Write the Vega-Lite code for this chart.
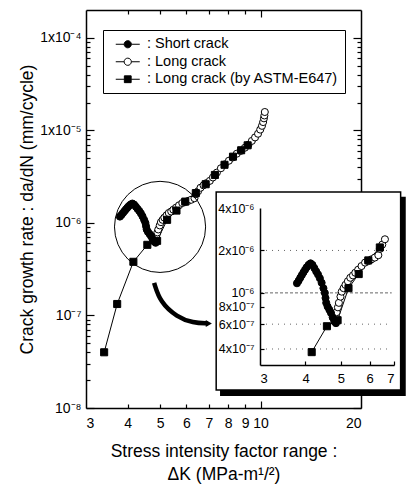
{
  "$schema": "https://vega.github.io/schema/vega-lite/v6.json",
  "width": 275,
  "height": 398,
  "autosize": {"type": "none"},
  "padding": {"left": 86, "top": 10, "right": 45, "bottom": 77},
  "background": "white",
  "config": {
    "view": {"stroke": null},
    "font": "Liberation Sans",
    "axis": {"grid": false, "domainColor": "black", "tickColor": "black", "labelColor": "black", "titleColor": "black", "labelFont": "Liberation Sans", "titleFont": "Liberation Sans", "titleFontWeight": "normal", "domainWidth": 1.5, "tickWidth": 1.2}
  },
  "datasets": {
    "main": [
      {"s": "Long crack", "dk": 4.84, "r": 6.8e-7},
      {"s": "Long crack", "dk": 4.87, "r": 7.3e-7},
      {"s": "Long crack", "dk": 4.91, "r": 7.9e-7},
      {"s": "Long crack", "dk": 4.94, "r": 8.5e-7},
      {"s": "Long crack", "dk": 4.99, "r": 9.4e-7},
      {"s": "Long crack", "dk": 5.03, "r": 1.02e-6},
      {"s": "Long crack", "dk": 5.09, "r": 1.08e-6},
      {"s": "Long crack", "dk": 5.15, "r": 1.14e-6},
      {"s": "Long crack", "dk": 5.23, "r": 1.21e-6},
      {"s": "Long crack", "dk": 5.31, "r": 1.28e-6},
      {"s": "Long crack", "dk": 5.40, "r": 1.33e-6},
      {"s": "Long crack", "dk": 5.48, "r": 1.39e-6},
      {"s": "Long crack", "dk": 5.58, "r": 1.46e-6},
      {"s": "Long crack", "dk": 5.70, "r": 1.55e-6},
      {"s": "Long crack", "dk": 5.83, "r": 1.64e-6},
      {"s": "Long crack", "dk": 5.95, "r": 1.68e-6},
      {"s": "Long crack", "dk": 6.07, "r": 1.73e-6},
      {"s": "Long crack", "dk": 6.20, "r": 1.78e-6},
      {"s": "Long crack", "dk": 6.34, "r": 1.85e-6},
      {"s": "Long crack", "dk": 6.40, "r": 2.05e-6},
      {"s": "Long crack", "dk": 6.50, "r": 2.2e-6},
      {"s": "Long crack", "dk": 6.61, "r": 2.4e-6},
      {"s": "Long crack", "dk": 6.75, "r": 2.55e-6},
      {"s": "Long crack", "dk": 6.90, "r": 2.7e-6},
      {"s": "Long crack", "dk": 7.05, "r": 2.85e-6},
      {"s": "Long crack", "dk": 7.20, "r": 3.1e-6},
      {"s": "Long crack", "dk": 7.40, "r": 3.5e-6},
      {"s": "Long crack", "dk": 7.61, "r": 3.9e-6},
      {"s": "Long crack", "dk": 7.82, "r": 4.3e-6},
      {"s": "Long crack", "dk": 8.04, "r": 4.7e-6},
      {"s": "Long crack", "dk": 8.25, "r": 5.1e-6},
      {"s": "Long crack", "dk": 8.49, "r": 5.6e-6},
      {"s": "Long crack", "dk": 8.72, "r": 6.0e-6},
      {"s": "Long crack", "dk": 8.98, "r": 6.5e-6},
      {"s": "Long crack", "dk": 9.20, "r": 7.0e-6},
      {"s": "Long crack", "dk": 9.42, "r": 7.7e-6},
      {"s": "Long crack", "dk": 9.63, "r": 8.4e-6},
      {"s": "Long crack", "dk": 9.83, "r": 9.2e-6},
      {"s": "Long crack", "dk": 9.98, "r": 1.02e-5},
      {"s": "Long crack", "dk": 10.10, "r": 1.12e-5},
      {"s": "Long crack", "dk": 10.18, "r": 1.23e-5},
      {"s": "Long crack", "dk": 10.24, "r": 1.35e-5},
      {"s": "Long crack", "dk": 10.27, "r": 1.45e-5},
      {"s": "Long crack", "dk": 10.30, "r": 1.58e-5},
      {"s": "Short crack", "dk": 3.79, "r": 1.17e-6},
      {"s": "Short crack", "dk": 3.83, "r": 1.22e-6},
      {"s": "Short crack", "dk": 3.87, "r": 1.28e-6},
      {"s": "Short crack", "dk": 3.91, "r": 1.34e-6},
      {"s": "Short crack", "dk": 3.95, "r": 1.40e-6},
      {"s": "Short crack", "dk": 3.99, "r": 1.46e-6},
      {"s": "Short crack", "dk": 4.03, "r": 1.52e-6},
      {"s": "Short crack", "dk": 4.08, "r": 1.58e-6},
      {"s": "Short crack", "dk": 4.13, "r": 1.62e-6},
      {"s": "Short crack", "dk": 4.18, "r": 1.58e-6},
      {"s": "Short crack", "dk": 4.23, "r": 1.50e-6},
      {"s": "Short crack", "dk": 4.28, "r": 1.42e-6},
      {"s": "Short crack", "dk": 4.33, "r": 1.35e-6},
      {"s": "Short crack", "dk": 4.38, "r": 1.27e-6},
      {"s": "Short crack", "dk": 4.43, "r": 1.18e-6},
      {"s": "Short crack", "dk": 4.48, "r": 1.08e-6},
      {"s": "Short crack", "dk": 4.52, "r": 1.0e-6},
      {"s": "Short crack", "dk": 4.54, "r": 9.2e-7},
      {"s": "Short crack", "dk": 4.56, "r": 8.5e-7},
      {"s": "Short crack", "dk": 4.60, "r": 8.0e-7},
      {"s": "Short crack", "dk": 4.65, "r": 7.6e-7},
      {"s": "Short crack", "dk": 4.70, "r": 7.2e-7},
      {"s": "Short crack", "dk": 4.75, "r": 6.7e-7},
      {"s": "Short crack", "dk": 4.80, "r": 6.3e-7},
      {"s": "Short crack", "dk": 4.85, "r": 6.1e-7},
      {"s": "Long crack (by ASTM-E647)", "dk": 3.40, "r": 4.0e-8},
      {"s": "Long crack (by ASTM-E647)", "dk": 3.72, "r": 1.33e-7},
      {"s": "Long crack (by ASTM-E647)", "dk": 4.16, "r": 3.8e-7},
      {"s": "Long crack (by ASTM-E647)", "dk": 4.58, "r": 5.8e-7},
      {"s": "Long crack (by ASTM-E647)", "dk": 4.90, "r": 6.4e-7},
      {"s": "Long crack (by ASTM-E647)", "dk": 5.25, "r": 1.08e-6},
      {"s": "Long crack (by ASTM-E647)", "dk": 5.60, "r": 1.36e-6},
      {"s": "Long crack (by ASTM-E647)", "dk": 5.95, "r": 1.70e-6},
      {"s": "Long crack (by ASTM-E647)", "dk": 6.40, "r": 2.10e-6},
      {"s": "Long crack (by ASTM-E647)", "dk": 6.85, "r": 2.62e-6},
      {"s": "Long crack (by ASTM-E647)", "dk": 7.30, "r": 3.3e-6},
      {"s": "Long crack (by ASTM-E647)", "dk": 7.80, "r": 4.25e-6},
      {"s": "Long crack (by ASTM-E647)", "dk": 8.27, "r": 5.2e-6},
      {"s": "Long crack (by ASTM-E647)", "dk": 8.75, "r": 6.1e-6},
      {"s": "Long crack (by ASTM-E647)", "dk": 9.15, "r": 6.9e-6}
    ]
  },
  "layer": [
    {
      "data": {"name": "main"},
      "mark": {"type": "line", "color": "black", "strokeWidth": 1},
      "encoding": {
        "x": {"field": "dk", "type": "quantitative", "scale": {"type": "log", "domain": [3, 20], "nice": false},
          "axis": {"orient": "bottom", "values": [3, 4, 5, 6, 7, 8, 9, 10, 20], "format": "d", "ticks": false, "domain": true, "labelPadding": 8, "labelFontSize": 14,
            "title": ["Stress intensity factor range :", "ΔK (MPa-m¹/²)"], "titleFontSize": 17.5, "titlePadding": 12, "titleLineHeight": 23}},
        "y": {"field": "r", "type": "quantitative", "scale": {"type": "log", "domain": [1e-8, 2e-4], "nice": false},
          "axis": {"orient": "left", "values": [1e-8, 1e-7, 1e-6, 1e-5, 1e-4], "ticks": false, "domain": true, "labelPadding": 5, "labelFontSize": 14,
            "labelExpr": "datum.value > 5e-5 ? '1x10⁻⁴' : datum.value > 5e-6 ? '1x10⁻⁵' : datum.value > 5e-7 ? '10⁻⁶' : datum.value > 5e-8 ? '10⁻⁷' : '10⁻⁸'",
            "title": "Crack growth rate : da/dN (mm/cycle)", "titleFontSize": 17.5, "titlePadding": 3}},
        "detail": {"field": "s"}
      }
    },
    {
      "data": {"name": "main"},
      "transform": [{"filter": "datum.s === 'Long crack'"}],
      "mark": {"type": "point", "shape": "circle", "filled": true, "fill": "white", "stroke": "black", "strokeWidth": 1, "size": 50, "opacity": 1},
      "encoding": {
        "x": {"field": "dk", "type": "quantitative", "scale": {"type": "log", "domain": [3, 20], "nice": false},
          "axis": {"orient": "top", "values": [4, 5, 6, 7, 8, 9], "offset": -4, "tickSize": 4, "labels": false, "domain": false, "title": null}},
        "y": {"field": "r", "type": "quantitative", "scale": {"type": "log", "domain": [1e-8, 2e-4], "nice": false},
          "axis": {"orient": "right", "values": [2e-8, 3e-8, 4e-8, 5e-8, 6e-8, 7e-8, 8e-8, 9e-8, 2e-7, 3e-7, 4e-7, 5e-7, 6e-7, 7e-7, 8e-7, 9e-7, 2e-6, 3e-6, 4e-6, 5e-6, 6e-6, 7e-6, 8e-6, 9e-6, 2e-5, 3e-5, 4e-5, 5e-5, 6e-5, 7e-5, 8e-5, 9e-5], "offset": -4, "tickSize": 4, "labels": false, "domain": false, "title": null}}
      }
    },
    {
      "data": {"name": "main"},
      "transform": [{"filter": "datum.s === 'Short crack'"}],
      "mark": {"type": "point", "shape": "circle", "filled": true, "fill": "black", "stroke": "black", "strokeWidth": 1, "size": 50, "opacity": 1},
      "encoding": {
        "x": {"field": "dk", "type": "quantitative", "scale": {"type": "log", "domain": [3, 20], "nice": false},
          "axis": {"orient": "bottom", "values": [4, 5, 6, 7, 8, 9], "offset": -4, "tickSize": 4, "labels": false, "domain": false, "title": null}},
        "y": {"field": "r", "type": "quantitative", "scale": {"type": "log", "domain": [1e-8, 2e-4], "nice": false},
          "axis": {"orient": "left", "values": [2e-8, 3e-8, 4e-8, 5e-8, 6e-8, 7e-8, 8e-8, 9e-8, 2e-7, 3e-7, 4e-7, 5e-7, 6e-7, 7e-7, 8e-7, 9e-7, 2e-6, 3e-6, 4e-6, 5e-6, 6e-6, 7e-6, 8e-6, 9e-6, 2e-5, 3e-5, 4e-5, 5e-5, 6e-5, 7e-5, 8e-5, 9e-5], "offset": -4, "tickSize": 4, "labels": false, "domain": false, "title": null}}
      }
    },
    {
      "data": {"name": "main"},
      "transform": [{"filter": "datum.s === 'Long crack (by ASTM-E647)'"}],
      "mark": {"type": "point", "shape": "square", "filled": true, "fill": "black", "stroke": "black", "strokeWidth": 1, "size": 50, "opacity": 1},
      "encoding": {
        "x": {"field": "dk", "type": "quantitative", "scale": {"type": "log", "domain": [3, 20], "nice": false},
          "axis": {"orient": "bottom", "values": [10], "offset": -7, "tickSize": 7, "labels": false, "domain": false, "title": null}},
        "y": {"field": "r", "type": "quantitative", "scale": {"type": "log", "domain": [1e-8, 2e-4], "nice": false},
          "axis": {"orient": "left", "values": [1e-8, 1e-7, 1e-6, 1e-5, 1e-4], "offset": -8, "tickSize": 8, "labels": false, "domain": false, "title": null}}
      }
    },
    {
      "data": {"values": [{"dk": 5.0, "r": 9.06e-7}]},
      "mark": {"type": "point", "shape": "circle", "filled": false, "stroke": "black", "strokeWidth": 1, "size": 8300, "opacity": 1},
      "encoding": {
        "x": {"field": "dk", "type": "quantitative", "scale": {"type": "log", "domain": [3, 20], "nice": false},
          "axis": {"orient": "top", "values": [10], "offset": -7, "tickSize": 7, "labels": false, "domain": false, "title": null}},
        "y": {"field": "r", "type": "quantitative", "scale": {"type": "log", "domain": [1e-8, 2e-4], "nice": false},
          "axis": {"orient": "right", "values": [1e-8, 1e-7, 1e-6, 1e-5, 1e-4], "offset": -8, "tickSize": 8, "labels": false, "domain": false, "title": null}}
      }
    },
    {
      "data": {"values": [{"dk": 4.80, "r": 2.25e-7}, {"dk": 5.0, "r": 1.40e-7}, {"dk": 5.62, "r": 9.6e-8}, {"dk": 6.28, "r": 8.3e-8}, {"dk": 6.95, "r": 8.2e-8}]},
      "mark": {"type": "line", "color": "black", "strokeWidth": 4.5, "interpolate": "basis", "strokeCap": "butt"},
      "encoding": {
        "x": {"field": "dk", "type": "quantitative", "scale": {"type": "log", "domain": [3, 20], "nice": false},
          "axis": {"orient": "top", "values": [3], "ticks": false, "labels": false, "domain": true, "title": null}},
        "y": {"field": "r", "type": "quantitative", "scale": {"type": "log", "domain": [1e-8, 2e-4], "nice": false},
          "axis": {"orient": "right", "values": [1e-8], "ticks": false, "labels": false, "domain": true, "title": null}}
      }
    },
    {
      "data": {"values": [{"dk": 7.0, "r": 8.2e-8}]},
      "mark": {"type": "point", "shape": "triangle-right", "filled": true, "color": "black", "size": 50, "opacity": 1},
      "encoding": {
        "x": {"field": "dk", "type": "quantitative", "scale": {"type": "log", "domain": [3, 20], "nice": false}, "axis": null},
        "y": {"field": "r", "type": "quantitative", "scale": {"type": "log", "domain": [1e-8, 2e-4], "nice": false}, "axis": null}
      }
    },
    {
      "data": {"values": [{}]},
      "mark": {"type": "rect", "fill": "black"},
      "encoding": {
        "x": {"datum": 2.33, "type": "quantitative", "scale": {"type": "log", "domain": [3, 7], "range": [174, 308], "nice": false}, "axis": null},
        "x2": {"datum": 7.54},
        "y": {"datum": 4.8e-6, "type": "quantitative", "scale": {"type": "log", "domain": [3.08e-7, 4e-6], "range": [355, 198], "nice": false}, "axis": null},
        "y2": {"datum": 1.86e-7}
      }
    },
    {
      "data": {"values": [{}]},
      "mark": {"type": "rect", "fill": "white", "stroke": "black", "strokeWidth": 1.5},
      "encoding": {
        "x": {"datum": 2.274, "type": "quantitative", "scale": {"type": "log", "domain": [3, 7], "range": [174, 308], "nice": false}, "axis": null},
        "x2": {"datum": 7.30},
        "y": {"datum": 5.2e-6, "type": "quantitative", "scale": {"type": "log", "domain": [3.08e-7, 4e-6], "range": [355, 198], "nice": false}, "axis": null},
        "y2": {"datum": 2.05e-7}
      }
    },
    {
      "data": {"values": [{"r": 4e-7}, {"r": 6e-7}, {"r": 1e-6}, {"r": 2e-6}]},
      "mark": {"type": "rule", "color": "#666", "strokeWidth": 1},
      "encoding": {
        "x": {"datum": 3, "type": "quantitative", "scale": {"type": "log", "domain": [3, 7], "range": [174, 308], "nice": false}, "axis": null},
        "x2": {"datum": 6.9},
        "y": {"field": "r", "type": "quantitative", "scale": {"type": "log", "domain": [3.08e-7, 4e-6], "range": [355, 198], "nice": false}, "axis": null},
        "strokeDash": {"condition": {"test": "datum.r > 9e-7 && datum.r < 1.1e-6", "value": [3, 2]}, "value": [1, 5]}
      }
    },
    {
      "data": {"name": "main"},
      "transform": [{"filter": "datum.dk >= 4 && datum.dk <= 6.7"}],
      "mark": {"type": "line", "color": "black", "strokeWidth": 1},
      "encoding": {
        "x": {"field": "dk", "type": "quantitative", "scale": {"type": "log", "domain": [3, 7], "range": [174, 308], "nice": false},
          "axis": {"orient": "bottom", "offset": -43, "zindex": 1, "values": [3, 4, 5, 6, 7], "format": "d", "ticks": false, "domain": true, "labelPadding": 7, "labelFontSize": 13, "title": null}},
        "y": {"field": "r", "type": "quantitative", "scale": {"type": "log", "domain": [3.08e-7, 4e-6], "range": [355, 198], "nice": false},
          "axis": {"orient": "left", "offset": -174, "zindex": 1, "values": [4e-7, 6e-7, 8e-7, 1e-6, 2e-6, 4e-6], "ticks": false, "domain": true, "labelPadding": 6, "labelFontSize": 12.5,
            "labelExpr": "datum.value > 3e-6 ? '4x10⁻⁶' : datum.value > 1.5e-6 ? '2x10⁻⁶' : datum.value > 9e-7 ? '10⁻⁶' : datum.value > 7e-7 ? '8x10⁻⁷' : datum.value > 5e-7 ? '6x10⁻⁷' : '4x10⁻⁷'",
            "title": null}},
        "detail": {"field": "s"}
      }
    },
    {
      "data": {"name": "main"},
      "transform": [{"filter": "datum.s === 'Long crack' && datum.dk <= 6.7"}],
      "mark": {"type": "point", "shape": "circle", "filled": true, "fill": "white", "stroke": "black", "strokeWidth": 1, "size": 50, "opacity": 1},
      "encoding": {
        "x": {"field": "dk", "type": "quantitative", "scale": {"type": "log", "domain": [3, 7], "range": [174, 308], "nice": false},
          "axis": {"orient": "bottom", "offset": -47, "tickSize": 4, "zindex": 1, "values": [4, 5, 6, 7], "labels": false, "domain": false, "title": null}},
        "y": {"field": "r", "type": "quantitative", "scale": {"type": "log", "domain": [3.08e-7, 4e-6], "range": [355, 198], "nice": false},
          "axis": {"orient": "left", "offset": -178, "tickSize": 4, "zindex": 1, "values": [4e-7, 6e-7, 8e-7, 1e-6, 2e-6], "labels": false, "domain": false, "title": null}}
      }
    },
    {
      "data": {"name": "main"},
      "transform": [{"filter": "datum.s === 'Short crack'"}],
      "mark": {"type": "point", "shape": "circle", "filled": true, "fill": "black", "stroke": "black", "strokeWidth": 1, "size": 50, "opacity": 1},
      "encoding": {
        "x": {"field": "dk", "type": "quantitative", "scale": {"type": "log", "domain": [3, 7], "range": [174, 308], "nice": false}, "axis": null},
        "y": {"field": "r", "type": "quantitative", "scale": {"type": "log", "domain": [3.08e-7, 4e-6], "range": [355, 198], "nice": false}, "axis": null}
      }
    },
    {
      "data": {"name": "main"},
      "transform": [{"filter": "datum.s === 'Long crack (by ASTM-E647)' && datum.dk >= 4 && datum.dk <= 6.7"}],
      "mark": {"type": "point", "shape": "square", "filled": true, "fill": "black", "stroke": "black", "strokeWidth": 1, "size": 50, "opacity": 1},
      "encoding": {
        "x": {"field": "dk", "type": "quantitative", "scale": {"type": "log", "domain": [3, 7], "range": [174, 308], "nice": false}, "axis": null},
        "y": {"field": "r", "type": "quantitative", "scale": {"type": "log", "domain": [3.08e-7, 4e-6], "range": [355, 198], "nice": false}, "axis": null}
      }
    },
    {
      "data": {"name": "main"},
      "transform": [{"filter": "datum.dk < 0"}],
      "mark": {"type": "point", "filled": true, "stroke": "black", "strokeWidth": 1, "opacity": 1},
      "encoding": {
        "shape": {"field": "s", "type": "nominal",
          "scale": {"domain": ["Short crack", "Long crack", "Long crack (by ASTM-E647)"],
            "range": ["M-3,0H-0.9M0.9,0H3M0.9,0A0.9,0.9,0,1,1,-0.9,0A0.9,0.9,0,1,1,0.9,0Z", "M-3,0H-0.9M0.9,0H3M0.9,0A0.9,0.9,0,1,1,-0.9,0A0.9,0.9,0,1,1,0.9,0Z", "M-3,0H-0.85M0.85,0H3M-0.85,-0.85H0.85V0.85H-0.85Z"]},
          "legend": {"title": null, "orient": "none", "legendX": 17, "legendY": 20, "strokeColor": "black", "fillColor": "white", "padding": 7,
            "labelFont": "Liberation Sans", "labelFontSize": 14.5, "labelColor": "black", "labelExpr": "': ' + datum.label + '\u00a0\u00a0\u00a0'", "labelLimit": 400,
            "symbolSize": 64, "symbolOpacity": 1, "symbolStrokeWidth": 1, "symbolOffset": 10.5, "labelOffset": 12, "rowPadding": 2.5}},
        "fill": {"field": "s", "type": "nominal", "scale": {"domain": ["Short crack", "Long crack", "Long crack (by ASTM-E647)"], "range": ["black", "white", "black"]}}
      }
    }
  ],
  "resolve": {"scale": {"x": "independent", "y": "independent"}}
}
